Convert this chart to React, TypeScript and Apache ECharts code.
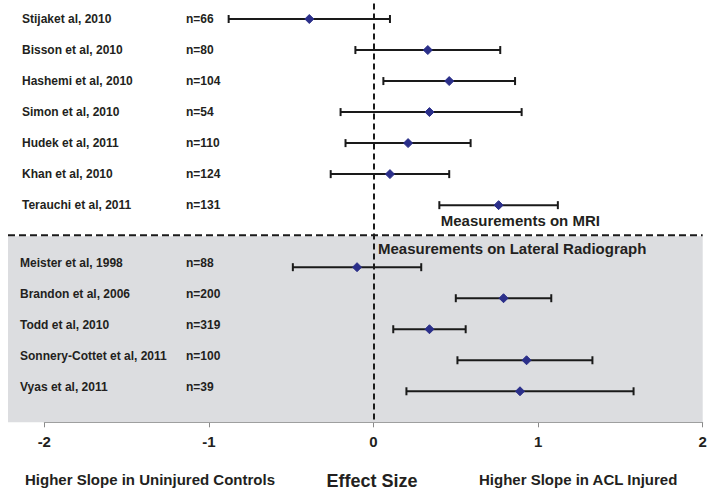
import React, { useEffect, useRef } from "react";
import * as echarts from "echarts";

const studies = [
  "Stijaket al, 2010",
  "Bisson et al, 2010",
  "Hashemi et al, 2010",
  "Simon et al, 2010",
  "Hudek et al, 2011",
  "Khan et al, 2010",
  "Terauchi et al, 2011",
  "Meister et al, 1998",
  "Brandon et al, 2006",
  "Todd et al, 2010",
  "Sonnery-Cottet et al, 2011",
  "Vyas et al, 2011",
];
const sampleSizes = ["n=66", "n=80", "n=104", "n=54", "n=110", "n=124", "n=131", "n=88", "n=200", "n=319", "n=100", "n=39"];
const effectSize = [-0.39, 0.33, 0.46, 0.34, 0.21, 0.1, 0.76, -0.1, 0.79, 0.34, 0.93, 0.89];
const ciLower = [-0.88, -0.11, 0.06, -0.2, -0.17, -0.26, 0.4, -0.49, 0.5, 0.12, 0.51, 0.2];
const ciUpper = [0.1, 0.77, 0.86, 0.9, 0.59, 0.46, 1.12, 0.29, 1.08, 0.56, 1.33, 1.58];
const method = ["MRI", "MRI", "MRI", "MRI", "MRI", "MRI", "MRI", "Radiograph", "Radiograph", "Radiograph", "Radiograph", "Radiograph"];
const rowIndex = [0, 1, 2, 3, 4, 5, 6, 8, 9, 10, 11, 12];
const radiographSection = [7, 13];
const xTicks = [-2, -1, 0, 1, 2];

const FONT = "'Liberation Sans', Arial, Helvetica, sans-serif";
const TEXT = "#231f20";
const NAVY = "#2b2f8a";
const GRAY_BG = "#dcdde0";

export default function App() {
  const ref = useRef<HTMLDivElement>(null);

  useEffect(() => {
    if (!ref.current) return;
    const chart = echarts.init(ref.current, undefined, { renderer: "svg" });

    const barData = rowIndex.map((r, i) => [ciLower[i], ciUpper[i], effectSize[i], r]);
    const labelData = rowIndex.map((r, i) => [0, r, i]);

    chart.setOption({
      animation: false,
      backgroundColor: "#ffffff",
      grid: { left: 44.3, right: 13.3, top: 3.5, bottom: 75.7, containLabel: false, outerBoundsMode: "none" },
      xAxis: {
        type: "value",
        min: xTicks[0],
        max: xTicks[xTicks.length - 1],
        interval: 1,
        axisLine: { show: true, onZero: false, lineStyle: { color: "#8a8a8a", width: 1 } },
        axisTick: { show: true, length: 5, lineStyle: { color: "#8a8a8a" } },
        axisLabel: { color: TEXT, fontFamily: FONT, fontWeight: "bold", fontSize: 15, margin: 12 },
        splitLine: { show: false },
      },
      yAxis: { type: "value", min: -0.5, max: 13, inverse: true, show: false },
      series: [
        {
          type: "custom",
          z: 1,
          clip: false,
          silent: true,
          data: [radiographSection],
          renderItem: (params: any, api: any) => {
            const tl = api.coord([xTicks[xTicks.length - 1], api.value(0)]);
            const br = api.coord([xTicks[xTicks.length - 1], api.value(1)]);
            const left = 8;
            return {
              type: "group",
              children: [
                {
                  type: "rect",
                  shape: { x: left, y: tl[1], width: tl[0] - left, height: br[1] - tl[1] },
                  style: { fill: GRAY_BG },
                },
                {
                  type: "line",
                  shape: { x1: left, y1: tl[1] - 1, x2: tl[0], y2: tl[1] - 1 },
                  style: { stroke: "#1a1a1a", lineWidth: 2, lineDash: [7, 4] },
                },
              ],
            };
          },
        },
        {
          type: "custom",
          z: 3,
          clip: false,
          silent: true,
          data: labelData,
          renderItem: (params: any, api: any) => {
            const idx = api.value(2);
            const y = api.coord([0, api.value(1)])[1] + (method[idx] === "Radiograph" ? -4 : 0);
            return {
              type: "group",
              children: [
                {
                  type: "text",
                  x: method[idx] === "Radiograph" ? 20 : 22,
                  y,
                  style: { text: studies[idx], fill: TEXT, font: `bold 12px ${FONT}`, verticalAlign: "middle", align: "left" },
                },
                {
                  type: "text",
                  x: 186,
                  y,
                  style: { text: sampleSizes[idx], fill: TEXT, font: `bold 12px ${FONT}`, verticalAlign: "middle", align: "left" },
                },
              ],
            };
          },
        },
        {
          type: "custom",
          z: 4,
          silent: true,
          data: barData,
          encode: { x: [0, 1, 2], y: 3 },
          renderItem: (params: any, api: any) => {
            const lo = api.coord([api.value(0), api.value(3)]);
            const hi = api.coord([api.value(1), api.value(3)]);
            const est = api.coord([api.value(2), api.value(3)]);
            const cap = 4;
            const d = 4.5;
            const lineStyle = { stroke: "#1a1a1a", lineWidth: 2 };
            return {
              type: "group",
              children: [
                { type: "line", shape: { x1: lo[0], y1: lo[1], x2: hi[0], y2: hi[1] }, style: lineStyle },
                { type: "line", shape: { x1: lo[0], y1: lo[1] - cap, x2: lo[0], y2: lo[1] + cap }, style: lineStyle },
                { type: "line", shape: { x1: hi[0], y1: hi[1] - cap, x2: hi[0], y2: hi[1] + cap }, style: lineStyle },
                {
                  type: "polygon",
                  shape: { points: [[est[0] - d, est[1]], [est[0], est[1] - d], [est[0] + d, est[1]], [est[0], est[1] + d]] },
                  style: { fill: NAVY, stroke: NAVY, lineWidth: 1 },
                },
              ],
            };
          },
          markLine: {
            silent: true,
            symbol: ["none", "none"],
            label: { show: false },
            lineStyle: { color: "#1a1a1a", type: [6, 4], width: 2 },
            data: [{ xAxis: 0 }],
          },
        },
      ],
      graphic: [
        {
          type: "text",
          left: 440.7,
          top: 213,
          z: 10,
          style: { text: "Measurements on MRI", fill: TEXT, font: `bold 15px ${FONT}` },
        },
        {
          type: "text",
          left: 378,
          top: 241,
          z: 10,
          style: { text: "Measurements on Lateral Radiograph", fill: TEXT, font: `bold 15px ${FONT}` },
        },
        {
          type: "text",
          left: 25,
          top: 472,
          style: { text: "Higher Slope in Uninjured Controls", fill: TEXT, font: `bold 15px ${FONT}` },
        },
        {
          type: "text",
          x: 372,
          y: 481,
          style: { text: "Effect Size", fill: TEXT, font: `bold 18px ${FONT}`, align: "center", verticalAlign: "middle" },
        },
        {
          type: "text",
          left: 479,
          top: 472,
          style: { text: "Higher Slope in ACL Injured", fill: TEXT, font: `bold 15px ${FONT}` },
        },
      ],
    });

    return () => chart.dispose();
  }, []);

  return <div ref={ref} style={{ position: "fixed", left: 0, top: 0, width: 716, height: 498 }} />;
}
